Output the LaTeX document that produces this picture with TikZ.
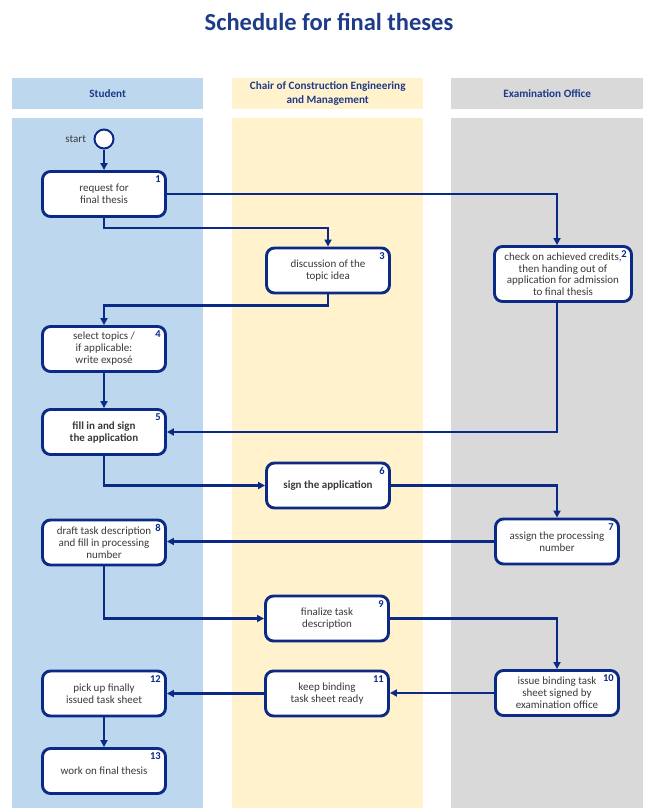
\documentclass[tikz,border=0pt]{standalone}
\usepackage{fontspec}
\setmainfont{Carlito}
\usetikzlibrary{arrows.meta}
\definecolor{bl}{HTML}{0A2A85}
\definecolor{tx}{HTML}{3A3A3A}
\definecolor{hd}{HTML}{1F3A8A}
\definecolor{ttl}{HTML}{1F3C88}
\definecolor{laneA}{HTML}{BDD7EE}
\definecolor{laneB}{HTML}{FFF2CC}
\definecolor{laneC}{HTML}{D9D9D9}
\begin{document}
\begin{tikzpicture}[x=1pt,y=-1pt,
  stepbox/.style={draw=bl, line width=2.9pt, rounded corners=8pt, fill=white,
    minimum width=123pt, minimum height=45pt, align=center,
    font=\fontsize{11}{12}\selectfont, text=tx, inner sep=1pt},
  num/.style={anchor=north east, font=\fontsize{10.5}{11}\selectfont\bfseries, text=bl, inner sep=0pt},
  flow/.style={draw=bl, line width=2.4pt, -{Triangle[length=7pt,width=7pt]}},
  lanehead/.style={anchor=north west, inner sep=0pt, align=center, text=hd,
    font=\fontsize{11.2}{13.5}\selectfont\bfseries},
  startc/.style={circle, draw=bl, line width=2pt, fill=white, minimum size=19pt, inner sep=0pt}
]
\useasboundingbox (0,0) rectangle (660,808);
\fill[white] (0,0) rectangle (660,808);
% title
\node[font=\fontsize{24.5}{28}\selectfont\bfseries, text=ttl] (title) at (329,22) {Schedule for final theses};
% lanes
\fill[laneA] (12,118) rectangle (203,808);
\fill[laneB] (232,118) rectangle (423,808);
\fill[laneC] (451,118) rectangle (643,808);
\node[lanehead, fill=laneA, minimum width=191pt, minimum height=31pt] (hA) at (12,78) {Student};
\node[lanehead, fill=laneB, minimum width=191pt, minimum height=31pt] (hB) at (232,78) {Chair of Construction Engineering\\and Management};
\node[lanehead, fill=laneC, minimum width=192pt, minimum height=31pt] (hC) at (451,78) {Examination Office};
% start
\node[startc] (st) at (104,139) {};
\node[anchor=east, text=tx, font=\fontsize{11}{12}\selectfont] (stl) at ([xshift=-4pt]st.west) {start};
% boxes
\node[stepbox] (n1) at (104,194) {request for\\final thesis};
\node[stepbox, minimum width=137pt, minimum height=55pt, font=\fontsize{11}{11.5}\selectfont] (n2) at (563,274) {check on achieved credits,\\then handing out of\\application for admission\\to final thesis};
\node[stepbox] (n3) at (328,270.5) {discussion of the\\topic idea};
\node[stepbox] (n4) at (104,349) {select topics /\\if applicable:\\write exposé};
\node[stepbox, font=\fontsize{11}{12}\selectfont\bfseries] (n5) at (104,432) {fill in and sign\\the application};
\node[stepbox, font=\fontsize{11}{12}\selectfont\bfseries] (n6) at (328,485.5) {sign the application};
\node[stepbox] (n7) at (557,541.5) {assign the processing\\number};
\node[stepbox] (n8) at (104,542.5) {draft task description\\and fill in processing\\number};
\node[stepbox] (n9) at (327,618.5) {finalize task\\description};
\node[stepbox] (n10) at (557,693) {issue binding task\\sheet signed by\\examination office};
\node[stepbox] (n11) at (327,693.5) {keep binding\\task sheet ready};
\node[stepbox] (n12) at (104,693.5) {pick up finally\\issued task sheet};
\node[stepbox] (n13) at (104,771) {work on final thesis};
% numbers
\foreach \n in {1,...,13}{
  \node[num] (k\n) at ([xshift=-6pt,yshift=-5.5pt]n\n.north east) {\n};
}
% connectors
\draw[flow] (st) -- (n1);
\draw[flow] (n1.east) -| ([xshift=-6pt]n2.north);
\draw[flow] (n1.south) -- ++(0,10) -| (n3.north);
\draw[flow] (n3.south) -- ++(0,11) -| (n4.north);
\draw[flow] (n4) -- (n5);
\draw[flow] ([xshift=-6pt]n2.south) |- (n5.east);
\draw[flow] (n5.south) |- (n6.west);
\draw[flow] (n6.east) -| (n7.north);
\draw[flow] (n7.west) -- (n7.west -| n8.east);
\draw[flow] (n8.south) |- (n9.west);
\draw[flow] (n9.east) -| (n10.north);
\draw[flow] (n10.west) -- (n10.west -| n11.east);
\draw[flow] (n11.west) -- (n11.west -| n12.east);
\draw[flow] (n12) -- (n13);
\end{tikzpicture}
\end{document}
